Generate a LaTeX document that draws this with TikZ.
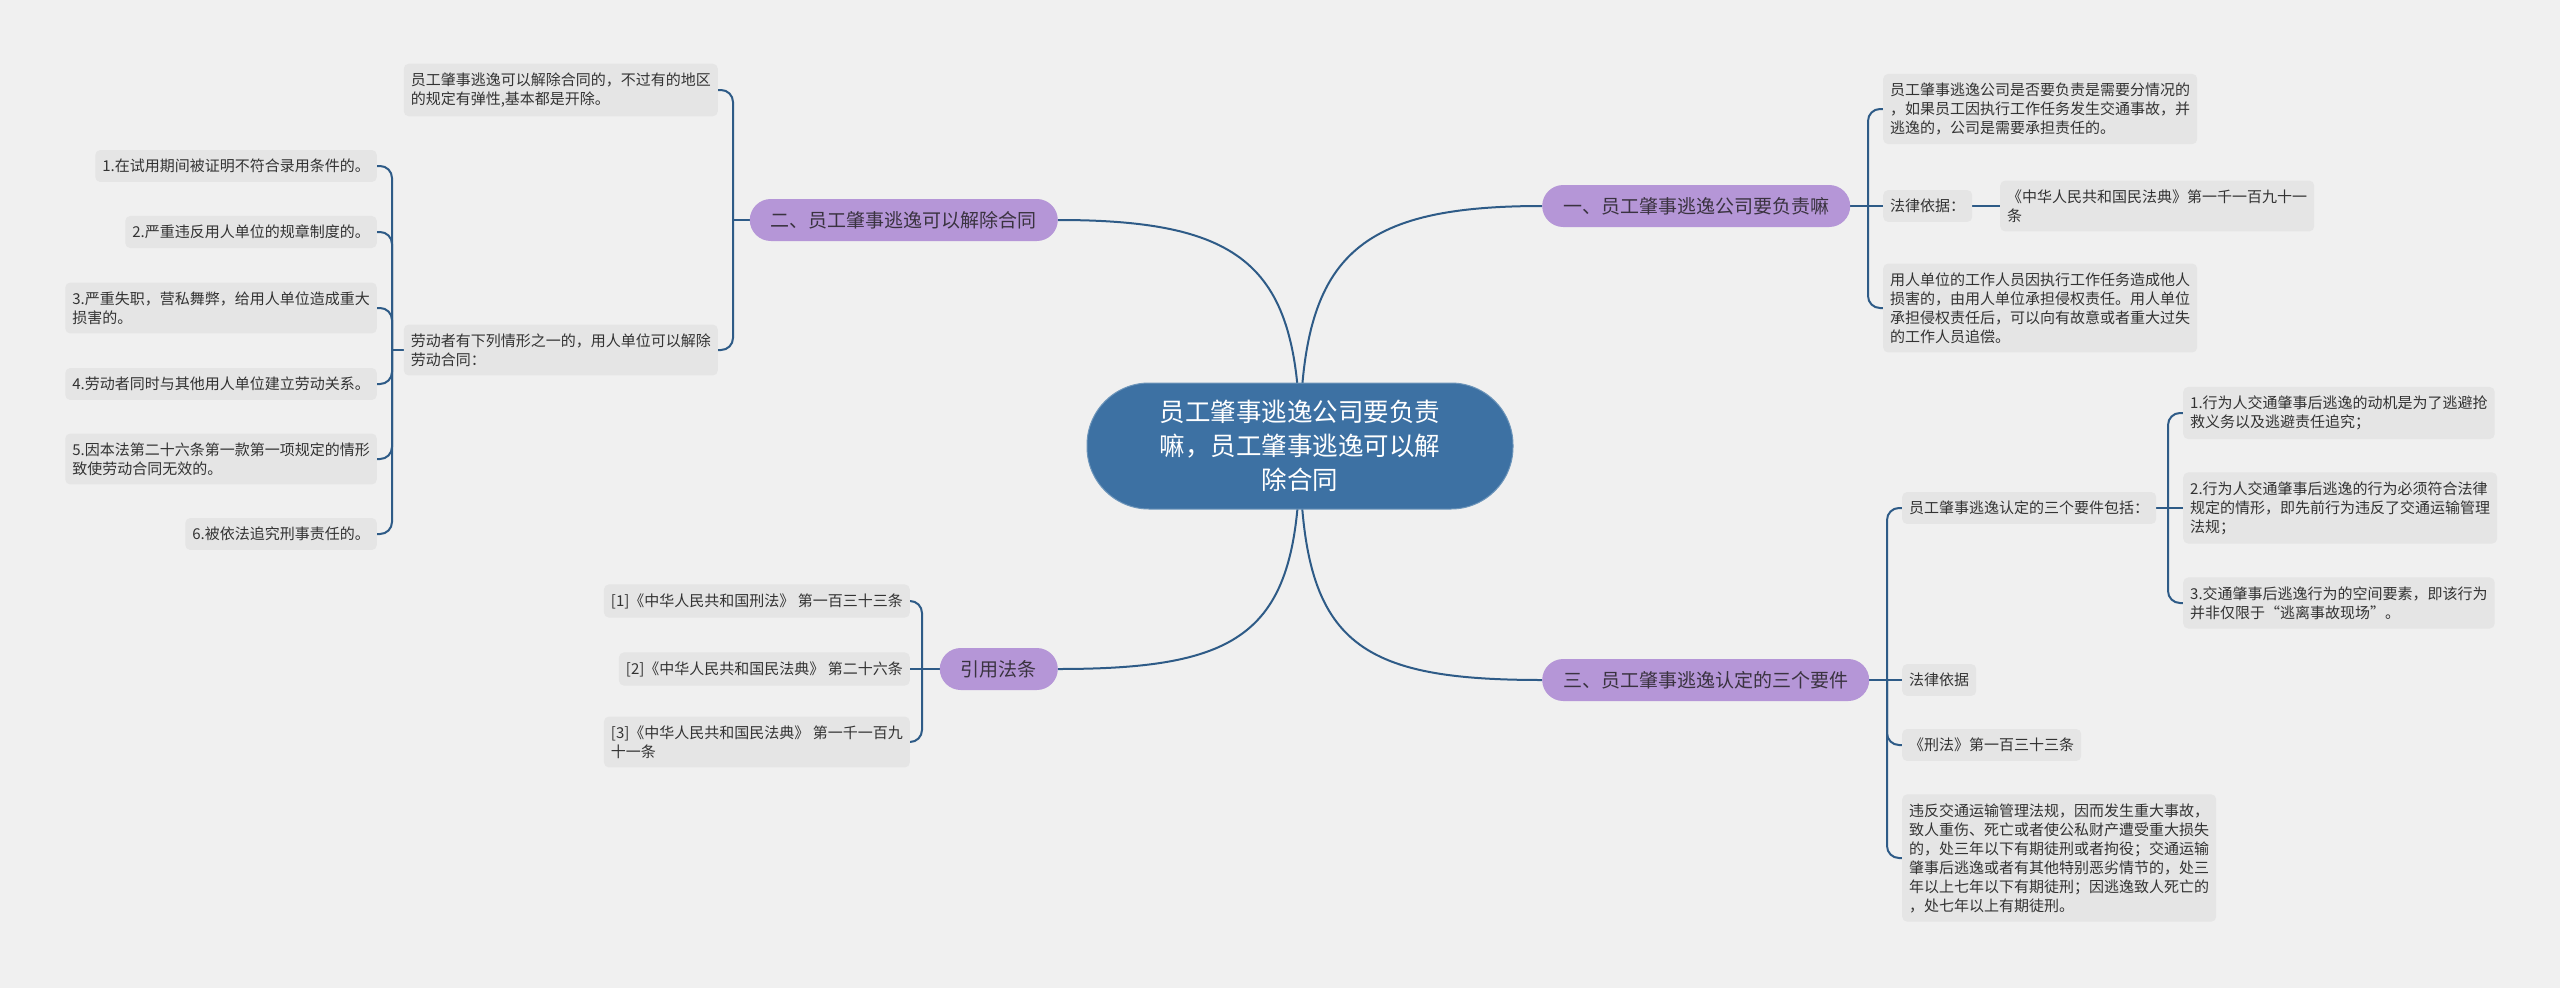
\documentclass[tikz,border=0pt]{standalone}
\usepackage{fontspec}
\newfontfamily\cjk{Noto Sans CJK SC}
\definecolor{bgcol}{HTML}{F0F0F0}
\definecolor{leafgray}{HTML}{E5E5E5}
\definecolor{textgray}{HTML}{333333}
\definecolor{rootblue}{HTML}{3D71A3}
\definecolor{branchpurple}{HTML}{B596D7}
\definecolor{branchtext}{HTML}{3A3340}
\definecolor{linkblue}{HTML}{2E5B87}
\pgfdeclarelayer{back}
\pgfsetlayers{back,main}
\tikzset{
  leaf/.style={fill=leafgray, rounded corners=5pt, inner xsep=7pt, inner ysep=9pt, align=left, text=textgray, font=\cjk\fontsize{15pt}{19pt}\selectfont},
  branch/.style={fill=branchpurple, rounded corners=21pt, minimum height=42pt, inner xsep=21pt, inner ysep=0pt, text=branchtext, font=\cjk\fontsize{19pt}{23pt}\selectfont},
  root/.style={fill=rootblue, draw=rootblue!75!white, line width=1pt, rounded corners=62pt, minimum width=426pt, minimum height=126pt, align=center, text=white, font=\cjk\fontsize{25.5pt}{34pt}\selectfont},
  link/.style={draw=linkblue, line width=2pt},
  bracket/.style={link, rounded corners=12pt}
}
\begin{document}
\begin{tikzpicture}[x=1pt,y=-1pt]
        \begin{pgfonlayer}{back}
        \fill[bgcol] (0,0) rectangle (2560,988);
        \end{pgfonlayer}
        \useasboundingbox (0,0) rectangle (2560,988);

        \node[root] (root) at (1300,446) {员工肇事逃逸公司要负责\\嘛，员工肇事逃逸可以解\\除合同};
        \node[branch, anchor=west] (b1) at (1542,206) {一、员工肇事逃逸公司要负责嘛};
        \node[branch, anchor=east] (b2) at (1058,220) {二、员工肇事逃逸可以解除合同};
        \node[branch, anchor=west] (b3) at (1542,680) {三、员工肇事逃逸认定的三个要件};
        \node[branch, anchor=east] (cite) at (1058,669) {引用法条};

        \node[leaf, anchor=west] (c11) at (1883,109) {员工肇事逃逸公司是否要负责是需要分情况的\\，如果员工因执行工作任务发生交通事故，并\\逃逸的，公司是需要承担责任的。};
        \node[leaf, anchor=west] (c12) at (1883,206) {法律依据：};
        \node[leaf, anchor=west] (c121) at (2000,206) {《中华人民共和国民法典》第一千一百九十一\\条};
        \node[leaf, anchor=west] (c13) at (1883,308) {用人单位的工作人员因执行工作任务造成他人\\损害的，由用人单位承担侵权责任。用人单位\\承担侵权责任后，可以向有故意或者重大过失\\的工作人员追偿。};

        \node[leaf, anchor=east] (c21) at (718,90) {员工肇事逃逸可以解除合同的，不过有的地区\\的规定有弹性,基本都是开除。};
        \node[leaf, anchor=east] (c22) at (718,350) {劳动者有下列情形之一的，用人单位可以解除\\劳动合同：};
        \node[leaf, anchor=east] (d1) at (377,166) {1.在试用期间被证明不符合录用条件的。};
        \node[leaf, anchor=east] (d2) at (377,232) {2.严重违反用人单位的规章制度的。};
        \node[leaf, anchor=east] (d3) at (377,308) {3.严重失职，营私舞弊，给用人单位造成重大\\损害的。};
        \node[leaf, anchor=east] (d4) at (377,384) {4.劳动者同时与其他用人单位建立劳动关系。};
        \node[leaf, anchor=east] (d5) at (377,459) {5.因本法第二十六条第一款第一项规定的情形\\致使劳动合同无效的。};
        \node[leaf, anchor=east] (d6) at (377,534) {6.被依法追究刑事责任的。};

        \node[leaf, anchor=east] (e1) at (910,601) {[1]《中华人民共和国刑法》 第一百三十三条};
        \node[leaf, anchor=east] (e2) at (910,669) {[2]《中华人民共和国民法典》 第二十六条};
        \node[leaf, anchor=east] (e3) at (910,742) {[3]《中华人民共和国民法典》 第一千一百九\\十一条};

        \node[leaf, anchor=west] (f1) at (1902,508) {员工肇事逃逸认定的三个要件包括：};
        \node[leaf, anchor=west] (f2) at (1902,680) {法律依据};
        \node[leaf, anchor=west] (f3) at (1902,745) {《刑法》第一百三十三条};
        \node[leaf, anchor=west] (f4) at (1902,858) {违反交通运输管理法规，因而发生重大事故，\\致人重伤、死亡或者使公私财产遭受重大损失\\的，处三年以下有期徒刑或者拘役；交通运输\\肇事后逃逸或者有其他特别恶劣情节的，处三\\年以上七年以下有期徒刑；因逃逸致人死亡的\\，处七年以上有期徒刑。};
        \node[leaf, anchor=west] (g1) at (2183,413) {1.行为人交通肇事后逃逸的动机是为了逃避抢\\救义务以及逃避责任追究；};
        \node[leaf, anchor=west] (g2) at (2183,508) {2.行为人交通肇事后逃逸的行为必须符合法律\\规定的情形，即先前行为违反了交通运输管理\\法规；};
        \node[leaf, anchor=west] (g3) at (2183,603) {3.交通肇事后逃逸行为的空间要素，即该行为\\并非仅限于“逃离事故现场”。};

        \coordinate (j1) at (1868,206);
        \coordinate (j2) at (733,220);
        \coordinate (j22) at (392,350);
        \coordinate (jc) at (922,669);
        \coordinate (j3) at (1887,680);
        \coordinate (j31) at (2168,508);

        \begin{pgfonlayer}{back}
        \draw[link] (root.center) .. controls (1300,260) and (1350,206) .. (b1.west);
        \draw[link] (root.center) .. controls (1300,270) and (1250,220) .. (b2.east);
        \draw[link] (root.center) .. controls (1300,640) and (1350,680) .. (b3.west);
        \draw[link] (root.center) .. controls (1300,630) and (1250,669) .. (cite.east);

        \draw[link] (b1.east) -- (j1) -- (c12.west);
        \draw[link] (c12.east) -- (c121.west);
        \foreach \n in {c11,c13} \draw[bracket] (j1) |- (\n.west);

        \draw[link] (b2.west) -- (j2);
        \foreach \n in {c21,c22} \draw[bracket] (j2) |- (\n.east);
        \draw[link] (c22.west) -- (j22);
        \foreach \n in {d1,d2,d3,d4,d5,d6} \draw[bracket] (j22) |- (\n.east);

        \draw[link] (cite.west) -- (jc) -- (e2.east);
        \foreach \n in {e1,e3} \draw[bracket] (jc) |- (\n.east);

        \draw[link] (b3.east) -- (j3) -- (f2.west);
        \foreach \n in {f1,f3,f4} \draw[bracket] (j3) |- (\n.west);
        \draw[link] (f1.east) -- (j31) -- (g2.west);
        \foreach \n in {g1,g3} \draw[bracket] (j31) |- (\n.west);
        \end{pgfonlayer}
\end{tikzpicture}
\end{document}
